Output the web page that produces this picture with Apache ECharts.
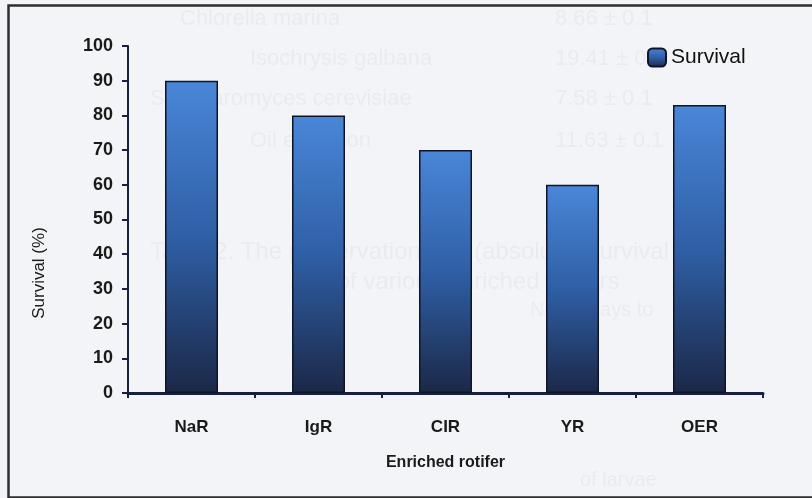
<!DOCTYPE html>
<html lang="en">
<head>
    <meta charset="UTF-8">
    <title>Survival of larvae fed enriched rotifers</title>
    <script src="https://cdn.jsdelivr.net/npm/echarts@6/dist/echarts.min.js"></script>
    <style>
        html,
        body {
            margin: 0px;
            width: 100%;
            height: 100%;
            background-color: #f3f4f7;
        }

        #chart {
            width: 812px;
            height: 498px;
        }
    </style>
</head>
<body>
    <div id="chart"></div>
    <script>
        var rotifers = ['NaR', 'IgR', 'CIR', 'YR', 'OER'];
        var survival = [90, 80, 70, 60, 83];
        var yTicks = [0, 10, 20, 30, 40, 50, 60, 70, 80, 90, 100];

        var navy = '#17203f';
        var font = '"Liberation Sans", Arial, sans-serif';
        var barFill = new echarts.graphic.LinearGradient(0, 0, 0, 1, [
            { offset: 0, color: '#4a86d8' },
            { offset: 0.5, color: '#2f5fa6' },
            { offset: 1, color: '#1b2847' }
        ]);

        // faint bleed-through of the printed page behind the figure
        var ghostText = [
            ['Chlorella marina', 180, 8, 22],
            ['8.66 ± 0.1', 555, 8, 22],
            ['Isochrysis galbana', 250, 48, 22],
            ['19.41 ± 0.1', 555, 48, 22],
            ['Saccharomyces cerevisiae', 150, 88, 22],
            ['7.58 ± 0.1', 555, 88, 22],
            ['Oil emulsion', 250, 130, 22],
            ['11.63 ± 0.1', 555, 130, 22],
            ['Table 2. The preservation and (absolute) survival', 150, 240, 24],
            ['and of various enriched rotifers', 290, 270, 24],
            ['No. of days to', 530, 300, 20],
            ['of larvae', 580, 470, 20]
        ];

        var chart = echarts.init(document.getElementById('chart'));
        chart.setOption({
            backgroundColor: '#f3f4f7',
            animation: false,
            graphic: ghostText.map(function (g) {
                return {
                    type: 'text',
                    left: g[1],
                    top: g[2],
                    z: -10,
                    silent: true,
                    style: {
                        text: g[0],
                        fill: 'rgba(120,125,135,0.07)',
                        font: g[3] + 'px ' + font
                    }
                };
            }).concat([{
                type: 'text',
                x: 39,
                y: 273,
                rotation: Math.PI / 2,
                silent: true,
                style: {
                    text: 'Survival (%)',
                    fill: '#1a1a1a',
                    font: '17px ' + font,
                    align: 'center',
                    verticalAlign: 'middle'
                }
            }, {
                type: 'rect',
                left: 6,
                top: 3,
                z: 100,
                silent: true,
                shape: { width: 812, height: 492 },
                style: { fill: 'none', stroke: '#2e2e2e', lineWidth: 2.5 }
            }]),
            legend: {
                left: 642,
                top: 42,
                itemWidth: 18,
                itemHeight: 18,
                itemGap: 5,
                data: ['Survival'],
                textStyle: {
                    color: '#111111',
                    fontSize: 21,
                    fontFamily: font
                }
            },
            grid: {
                left: 128,
                right: 49,
                top: 46,
                bottom: 105
            },
            xAxis: {
                type: 'category',
                data: rotifers,
                name: 'Enriched rotifer',
                nameLocation: 'middle',
                nameGap: 62,
                nameTextStyle: {
                    color: '#1a1a1a',
                    fontSize: 16,
                    fontWeight: 'bold',
                    fontFamily: font
                },
                axisLine: { lineStyle: { color: navy, width: 3 } },
                axisTick: {
                    show: true,
                    alignWithLabel: false,
                    length: 5,
                    lineStyle: { color: navy, width: 2 }
                },
                axisLabel: {
                    margin: 26,
                    color: '#1a1a1a',
                    fontSize: 17,
                    fontWeight: 'bold',
                    fontFamily: font
                }
            },
            yAxis: {
                type: 'value',
                min: yTicks[0],
                max: yTicks[yTicks.length - 1],
                interval: 10,
                axisLine: { show: true, lineStyle: { color: navy, width: 2 } },
                axisTick: { show: true, length: 6, lineStyle: { color: navy, width: 2 } },
                splitLine: { show: false },
                axisLabel: {
                    margin: 15,
                    color: '#1a1a1a',
                    fontSize: 18,
                    fontWeight: 'bold',
                    fontFamily: font
                }
            },
            series: [{
                name: 'Survival',
                type: 'bar',
                data: survival,
                barWidth: 53,
                itemStyle: {
                    color: barFill,
                    borderColor: '#0f1526',
                    borderWidth: 1.5
                }
            }]
        });
    </script>
</body>
</html>
